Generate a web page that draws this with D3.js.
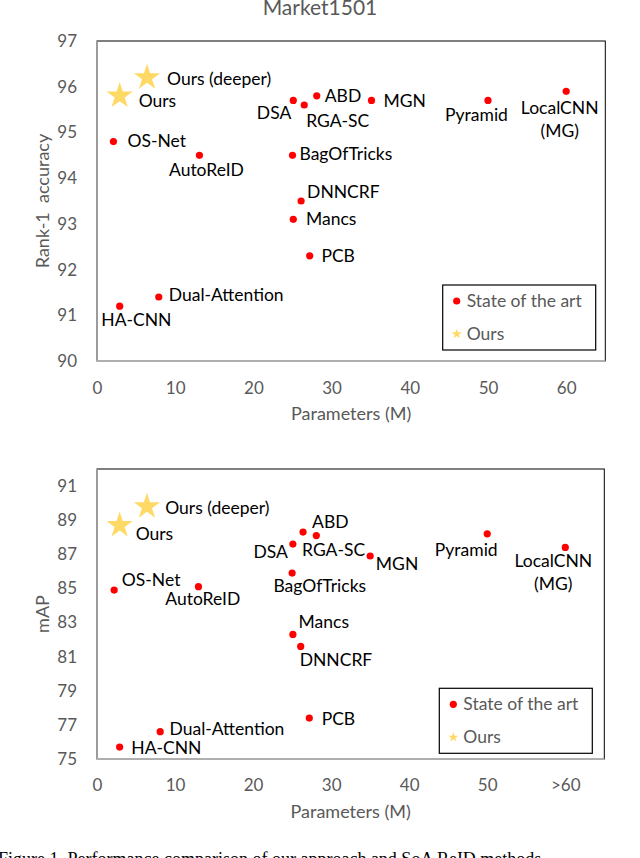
<!DOCTYPE html>
<html>
<head>
<meta charset="utf-8">
<script src="https://cdn.jsdelivr.net/npm/d3@7"></script>
<style>
  body { margin: 0; background: #fff; }
  svg text { font-family: Lato, "Open Sans", sans-serif; }
</style>
</head>
<body>
<svg id="chart" width="640" height="858"></svg>
<script>
// Methods compared (same order in every array below)
const methods = ["OS-Net", "AutoReID", "HA-CNN", "Dual-Attention", "DSA", "RGA-SC", "ABD",
                 "BagOfTricks", "Mancs", "DNNCRF", "PCB", "MGN", "Pyramid", "LocalCNN (MG)"];

// Rank-1 panel
const rank1Params = [2.1, 13.1, 2.9, 7.9, 25.1, 26.5, 28.1, 25.0, 25.1, 26.1, 27.2, 35.1, 50.0, 60.0];
const rank1Values = [94.8, 94.5, 91.2, 91.4, 95.7, 95.6, 95.8, 94.5, 93.1, 93.5, 92.3, 95.7, 95.7, 95.9];

// mAP panel
const mapParams = [2.2, 13.0, 2.9, 8.1, 25.1, 28.1, 26.4, 25.0, 25.1, 26.1, 27.2, 35.0, 50.0, 60.0];
const mapValues = [84.9, 85.1, 75.7, 76.6, 87.6, 88.1, 88.3, 85.9, 82.3, 81.6, 77.4, 86.9, 88.2, 87.4];

// Our models
const oursNames = ["Ours", "Ours (deeper)"];
const oursParams = [2.9, 6.4];
const oursRank1 = [95.8, 96.2];
const oursMap = [88.7, 89.8];

// Tick labels
const xTicks = [0, 10, 20, 30, 40, 50, 60];
const rank1Ticks = [90, 91, 92, 93, 94, 95, 96, 97];
const mapTicks = [75, 77, 79, 81, 83, 85, 87, 89, 91];

const svg = d3.select('#chart');
const grey = '#595959';
const starColor = '#ffd966';
const labelSize = 17.5;

// Title (mostly cut off at the top in the original)
svg.append('text')
    .attr('x', 320).attr('y', 15)
    .attr('text-anchor', 'middle')
    .attr('font-size', 21).attr('fill', grey)
    .text('Market1501');

// Label placement: [anchor, dx, dy] relative to the marker
const rank1Labels = {
    "Ours": ["start", 19, 11], "Ours (deeper)": ["start", 20, 7],
    "OS-Net": ["start", 14, 5.5], "AutoReID": ["middle", 7, 21],
    "DSA": ["end", -2, 19], "RGA-SC": ["start", 2, 22.4],
    "ABD": ["start", 8, 6], "MGN": ["start", 12, 6.6],
    "BagOfTricks": ["start", 7, 5], "DNNCRF": ["start", 6, -3.4],
    "Mancs": ["start", 12.7, 6], "PCB": ["start", 11.7, 6.6],
    "Pyramid": ["middle", -11.5, 20.3], "LocalCNN (MG)": ["middle", -6.5, 23],
    "Dual-Attention": ["start", 10, 4], "HA-CNN": ["middle", 16.7, 20]
};
const mapLabels = {
    "Ours": ["start", 16, 15], "Ours (deeper)": ["start", 18.3, 7.7],
    "OS-Net": ["start", 7.7, -4], "AutoReID": ["middle", 4.3, 18.7],
    "DSA": ["end", -5, 14], "BagOfTricks": ["start", -18.7, 19.4],
    "ABD": ["start", 9, -4], "RGA-SC": ["middle", 17.3, 20.7],
    "MGN": ["start", 5.7, 13.6], "Pyramid": ["middle", -21, 21.7],
    "LocalCNN (MG)": ["middle", -12, 19.4], "Mancs": ["start", 5.7, -6],
    "DNNCRF": ["start", -1, 20], "PCB": ["start", 12.4, 6.7],
    "Dual-Attention": ["start", 9.3, 3.3], "HA-CNN": ["start", 11.7, 7.3]
};

function drawPanel(cfg) {
    const x = d3.scaleLinear().domain([0, 65]).range([97, cfg.right]);
    const y = d3.scaleLinear().domain(cfg.yDomain).range([cfg.bottom, cfg.top]);
    const g = svg.append('g');

    // Plot area frame: black border, grey axis lines on left and bottom
    g.append('rect')
        .attr('x', x(0)).attr('y', cfg.top)
        .attr('width', x(65) - x(0)).attr('height', cfg.bottom - cfg.top)
        .attr('fill', 'none').attr('stroke', '#000').attr('stroke-width', 1);
    g.append('line')
        .attr('x1', x(0)).attr('x2', x(0)).attr('y1', cfg.top).attr('y2', cfg.bottom)
        .attr('stroke', '#a6a6a6').attr('stroke-width', 1.5);
    g.append('line')
        .attr('x1', x(0)).attr('x2', x(65)).attr('y1', cfg.bottom).attr('y2', cfg.bottom)
        .attr('stroke', '#bfbfbf').attr('stroke-width', 1.5);

    // Axes (labels only)
    const yAxis = g.append('g')
        .attr('transform', `translate(${x(0)},0)`)
        .call(d3.axisLeft(y).tickValues(cfg.yTicks).tickSize(0).tickPadding(20)
            .tickFormat(d3.format('d')));
    const xAxis = g.append('g')
        .attr('transform', `translate(0,${cfg.bottom})`)
        .call(d3.axisBottom(x).tickValues(xTicks).tickSize(0).tickPadding(cfg.xPad)
            .tickFormat(d => (cfg.lastTick && d === 60) ? cfg.lastTick : d));
    [yAxis, xAxis].forEach(a => {
        a.select('.domain').remove();
        a.selectAll('text').attr('font-size', 17).attr('fill', grey)
            .style('font-family', 'Lato, sans-serif');
    });

    // Axis titles
    g.append('text')
        .attr('x', (x(0) + x(65)) / 2).attr('y', cfg.bottom + 59)
        .attr('text-anchor', 'middle').attr('font-size', 18).attr('fill', grey)
        .text('Parameters (M)');
    g.append('text')
        .attr('transform', `translate(49,${(cfg.top + cfg.bottom) / 2}) rotate(-90)`)
        .attr('text-anchor', 'middle').attr('font-size', 18).attr('fill', grey)
        .style('white-space', 'pre')
        .text(cfg.yTitle);

    // State of the art points
    const pts = methods.map((m, i) => ({name: m, p: cfg.params[i], v: cfg.values[i]}));
    g.selectAll('circle.sota').data(pts).join('circle')
        .attr('class', 'sota')
        .attr('cx', d => x(d.p)).attr('cy', d => y(d.v))
        .attr('r', 3.6).attr('fill', '#ff0000');

    // Our models
    const ours = oursNames.map((m, i) => ({name: m, p: oursParams[i], v: cfg.ours[i]}));
    g.selectAll('path.ours').data(ours).join('path')
        .attr('class', 'ours')
        .attr('transform', d => `translate(${x(d.p)},${y(d.v)})`)
        .attr('d', d3.symbol(d3.symbolStar).size(215))
        .attr('fill', starColor);

    // Point labels
    g.selectAll('text.lbl').data(pts.concat(ours)).join('text')
        .attr('class', 'lbl')
        .each(function(d) {
            const pos = cfg.labels[d.name];
            const t = d3.select(this)
                .attr('x', x(d.p) + pos[1]).attr('y', y(d.v) + pos[2])
                .attr('text-anchor', pos[0])
                .attr('font-size', labelSize).attr('fill', '#000');
            if (d.name === 'LocalCNN (MG)') {
                t.append('tspan').text('LocalCNN');
                t.append('tspan').attr('x', x(d.p) + pos[1]).attr('dy', 23).text('(MG)');
            } else {
                t.text(d.name);
            }
        });

    // Legend
    const lg = g.append('g').attr('transform', `translate(${cfg.legend[0]},${cfg.legend[1]})`);
    lg.append('rect').attr('width', 153).attr('height', 65)
        .attr('fill', '#fff').attr('stroke', '#000').attr('stroke-width', 1.2);
    lg.append('circle').attr('cx', 14).attr('cy', 16).attr('r', 3.6).attr('fill', '#ff0000');
    lg.append('text').attr('x', 24).attr('y', 22).attr('font-size', labelSize).attr('fill', grey)
        .text('State of the art');
    lg.append('path').attr('transform', 'translate(14,49)')
        .attr('d', d3.symbol(d3.symbolStar).size(32)).attr('fill', starColor);
    lg.append('text').attr('x', 24).attr('y', 55).attr('font-size', labelSize).attr('fill', grey)
        .text('Ours');
}

drawPanel({
    top: 41, bottom: 361, right: 605.3, yDomain: [90, 97], yTicks: rank1Ticks, xPad: 21,
    params: rank1Params, values: rank1Values, ours: oursRank1, labels: rank1Labels,
    yTitle: 'Rank-1  accuracy', legend: [442.7, 285]
});
drawPanel({
    top: 469, bottom: 759, right: 604.3, yDomain: [75, 92], yTicks: mapTicks, xPad: 20,
    params: mapParams, values: mapValues, ours: oursMap, labels: mapLabels,
    yTitle: 'mAP', legend: [439.3, 688.3], lastTick: '>60'
});

// Figure caption, cut off by the bottom edge as in the original
svg.append('text')
    .attr('x', -2).attr('y', 865)
    .attr('font-size', 18).attr('fill', '#000')
    .style('font-family', '"Liberation Serif", serif')
    .text('Figure 1. Performance comparison of our approach and SoA ReID methods');
</script>
</body>
</html>
